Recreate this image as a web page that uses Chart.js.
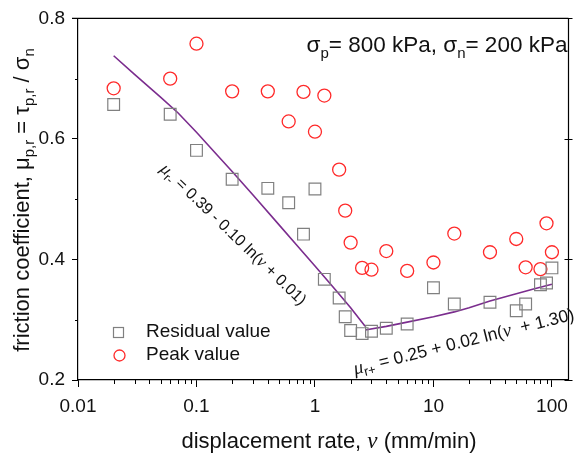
<!DOCTYPE html>
<html>
<head>
<meta charset="utf-8">
<script src="https://cdn.jsdelivr.net/npm/chart.js@4/dist/chart.umd.min.js"></script>
<style>
  html, body { margin: 0; padding: 0; background: #fff; }
</style>
</head>
<body>
<canvas id="graph" width="578" height="454"></canvas>
<script>
// データ (読み取り値)
const rates = [0.02, 0.06, 0.1, 0.2, 0.4, 0.6, 0.8, 1, 1.2, 1.6, 1.8, 2, 2.5, 3, 4, 6, 10, 15, 30, 50, 60, 80, 90, 100];
const residual = [0.657, 0.641, 0.581, 0.533, 0.518, 0.494, 0.442, 0.517, 0.367, 0.336, 0.305, 0.282, 0.277, 0.281, 0.286, 0.293, 0.353, 0.326, 0.329, 0.315, 0.326, 0.358, 0.361, 0.386];
const peak = [0.684, 0.700, 0.758, 0.679, 0.679, 0.629, 0.678, 0.612, 0.672, 0.549, 0.481, 0.428, 0.386, 0.383, 0.414, 0.381, 0.395, 0.443, 0.412, 0.434, 0.387, 0.384, 0.460, 0.412];

// 近似線
const fitLowX = [0.02, 0.03, 0.05, 0.07, 0.1, 0.15, 0.2, 0.3, 0.5, 0.7, 1, 1.5, 2, 2.65];
const fitLowY = [0.738, 0.707, 0.669, 0.643, 0.611, 0.573, 0.546, 0.507, 0.457, 0.424, 0.389, 0.349, 0.320, 0.289];
const fitHighX = [2.65, 4, 6, 10, 15, 20, 30, 50, 70, 100];
const fitHighY = [0.283, 0.289, 0.296, 0.305, 0.313, 0.320, 0.331, 0.343, 0.351, 0.359];

// 目盛り
const xMajor = [0.01, 0.1, 1, 10, 100];
const xLabels = ['0.01', '0.1', '1', '10', '100'];
const yMajor = [0.2, 0.4, 0.6, 0.8];
const yLabels = ['0.2', '0.4', '0.6', '0.8'];
const yMinor = [0.3, 0.5, 0.7];

const xMinor = [];
xMajor.slice(0, -1).forEach(d => {
    for (let k = 2; k <= 9; k++) xMinor.push(+(d * k).toPrecision(3));
});

const SANS = '"Liberation Sans", Arial, sans-serif';
const SERIF = '"Liberation Serif", "Times New Roman", serif';

const pairs = (xs, ys) => xs.map((x, i) => ({ x: x, y: ys[i] }));
const isMajorX = v => xMajor.some(m => Math.abs(m - v) / m < 1e-6);

// 下付き文字などを含むテキストを描く
function drawRich(ctx, segs, x, y, angle) {
    ctx.save();
    ctx.translate(x, y);
    ctx.rotate(angle);
    ctx.textBaseline = 'alphabetic';
    ctx.textAlign = 'left';
    let w = 0;
    segs.forEach(s => {
        ctx.font = s.font;
        s.w = ctx.measureText(s.t).width;
        w += s.w;
    });
    let cx = -w / 2;
    segs.forEach(s => {
        ctx.font = s.font;
        ctx.fillStyle = '#111';
        ctx.fillText(s.t, cx, s.dy || 0);
        cx += s.w;
    });
    ctx.restore();
}

const decorations = {
    id: 'decorations',
    afterDraw(chart) {
        const ctx = chart.ctx;
        const xs = chart.scales.x, ys = chart.scales.y;
        const a = chart.chartArea;
        ctx.save();
        ctx.strokeStyle = '#000';
        ctx.lineWidth = 1.2;
        // 枠
        ctx.beginPath();
        ctx.moveTo(a.left - 6, a.top); ctx.lineTo(a.right, a.top);
        ctx.moveTo(a.right, a.top); ctx.lineTo(a.right, a.bottom);
        ctx.stroke();
        // 補助目盛り
        ctx.lineWidth = 1;
        ctx.beginPath();
        xMinor.forEach(v => {
            const p = Math.round(xs.getPixelForValue(v)) + 0.5;
            ctx.moveTo(p, a.bottom); ctx.lineTo(p, a.bottom + 4);
        });
        yMinor.forEach(v => {
            const p = Math.round(ys.getPixelForValue(v)) + 0.5;
            ctx.moveTo(a.left, p); ctx.lineTo(a.left - 3, p);
        });
        yMajor.forEach(v => {
            const p = Math.round(ys.getPixelForValue(v)) + 0.5;
            ctx.moveTo(a.right - 4, p); ctx.lineTo(a.right + 4, p);
        });
        ctx.stroke();

        // 凡例
        ctx.strokeStyle = '#808080';
        ctx.lineWidth = 1.2;
        ctx.strokeRect(113.5, 327.5, 10, 10);
        ctx.strokeStyle = '#ff2a2a';
        ctx.lineWidth = 1.3;
        ctx.beginPath();
        ctx.arc(119.5, 355.5, 5.5, 0, Math.PI * 2);
        ctx.stroke();
        ctx.fillStyle = '#111';
        ctx.font = '19px ' + SANS;
        ctx.textBaseline = 'middle';
        ctx.fillText('Residual value', 146, 332);
        ctx.fillText('Peak value', 146, 355);

        // 軸タイトル
        const f22 = '22px ' + SANS;
        drawRich(ctx, [
            { t: 'displacement rate, ', font: f22 },
            { t: 'ν', font: 'italic 23px ' + SERIF },
            { t: ' (mm/min)', font: f22 }
        ], 329, 448, 0);
        const fy = '22px ' + SANS, fys = '15px ' + SANS;
        drawRich(ctx, [
            { t: 'friction coefficient, μ', font: fy },
            { t: 'p,r', font: fys, dy: 5 },
            { t: ' = τ', font: fy },
            { t: 'p,r', font: fys, dy: 5 },
            { t: ' / σ', font: fy },
            { t: 'n', font: fys, dy: 5 }
        ], 29, 200, -Math.PI / 2);

        // 条件
        const fb = '22.5px ' + SANS, fs = '15px ' + SANS;
        drawRich(ctx, [
            { t: 'σ', font: fb }, { t: 'p', font: fs, dy: 6 },
            { t: '= 800 kPa, σ', font: fb }, { t: 'n', font: fs, dy: 6 },
            { t: '= 200 kPa', font: fb }
        ], 437, 52, 0);

        // 近似式
        const f16 = '16px ' + SANS, f12 = '12px ' + SANS, mu1 = 'italic 17px ' + SERIF;
        drawRich(ctx, [
            { t: 'μ', font: mu1 }, { t: 'r-', font: f12, dy: 4 },
            { t: ' = 0.39 - 0.10 ln(', font: f16 },
            { t: 'ν', font: mu1 },
            { t: ' + 0.01)', font: f16 }
        ], 230, 238, 44 * Math.PI / 180);
        const f17 = '17.5px ' + SANS, f13 = '13px ' + SANS, mu2 = 'italic 19px ' + SERIF;
        drawRich(ctx, [
            { t: 'μ', font: mu2 }, { t: 'r+', font: f13, dy: 4 },
            { t: ' = 0.25 + 0.02 ln(', font: f17 },
            { t: 'ν', font: mu2 },
            { t: '  + 1.30)', font: f17 }
        ], 465, 347, -14 * Math.PI / 180);
        ctx.restore();
    }
};

const ctx = document.getElementById('graph').getContext('2d');

new Chart(ctx, {
    type: 'scatter',
    data: {
        datasets: [{
            label: 'Residual value',
            data: pairs(rates, residual),
            pointStyle: 'rect',
            pointRadius: 8.3,
            pointBorderColor: '#808080',
            pointBackgroundColor: 'rgba(0,0,0,0)',
            pointBorderWidth: 1.2,
            showLine: false
        }, {
            label: 'Peak value',
            data: pairs(rates, peak),
            pointStyle: 'circle',
            pointRadius: 6.5,
            pointBorderColor: '#ff2a2a',
            pointBackgroundColor: 'rgba(0,0,0,0)',
            pointBorderWidth: 1.3,
            showLine: false
        }, {
            label: 'fit-',
            data: pairs(fitLowX, fitLowY),
            showLine: true,
            borderColor: '#7b2d8e',
            borderWidth: 1.6,
            pointRadius: 0,
            tension: 0
        }, {
            label: 'fit+',
            data: pairs(fitHighX, fitHighY),
            showLine: true,
            borderColor: '#7b2d8e',
            borderWidth: 1.6,
            pointRadius: 0,
            tension: 0
        }]
    },
    options: {
        responsive: false,
        animation: false,
        devicePixelRatio: 1,
        layout: { padding: { top: 16, right: 1, left: 0, bottom: 0 } },
        plugins: {
            legend: { display: false },
            tooltip: { enabled: false }
        },
        scales: {
            x: {
                type: 'logarithmic',
                min: 0.01,
                max: 138,
                afterBuildTicks: s => {
                    s.ticks = xMajor.concat(xMinor).sort((p, q) => p - q).map(v => ({ value: v }));
                },
                afterFit: s => { s.height = 74; },
                ticks: {
                    autoSkip: false,
                    maxRotation: 0,
                    padding: 8,
                    color: '#111',
                    font: { family: SANS, size: 19 },
                    callback: v => {
                        const i = xMajor.findIndex(m => Math.abs(m - v) / m < 1e-6);
                        return i >= 0 ? xLabels[i] : '';
                    }
                },
                grid: {
                    drawOnChartArea: false,
                    tickLength: 7,
                    tickColor: c => (c.tick && isMajorX(c.tick.value)) ? '#000' : 'rgba(0,0,0,0)'
                },
                border: { display: true, color: '#000', width: 1.2 }
            },
            y: {
                min: 0.2,
                max: 0.8,
                afterBuildTicks: s => {
                    s.ticks = yMajor.map(v => ({ value: v }));
                },
                afterFit: s => { s.width = 78; },
                ticks: {
                    padding: 7,
                    color: '#111',
                    font: { family: SANS, size: 19 },
                    callback: (v, i) => yLabels[i]
                },
                grid: {
                    drawOnChartArea: false,
                    tickLength: 6,
                    tickColor: '#000'
                },
                border: { display: true, color: '#000', width: 1.2 }
            }
        }
    },
    plugins: [decorations]
});
</script>
</body>
</html>
